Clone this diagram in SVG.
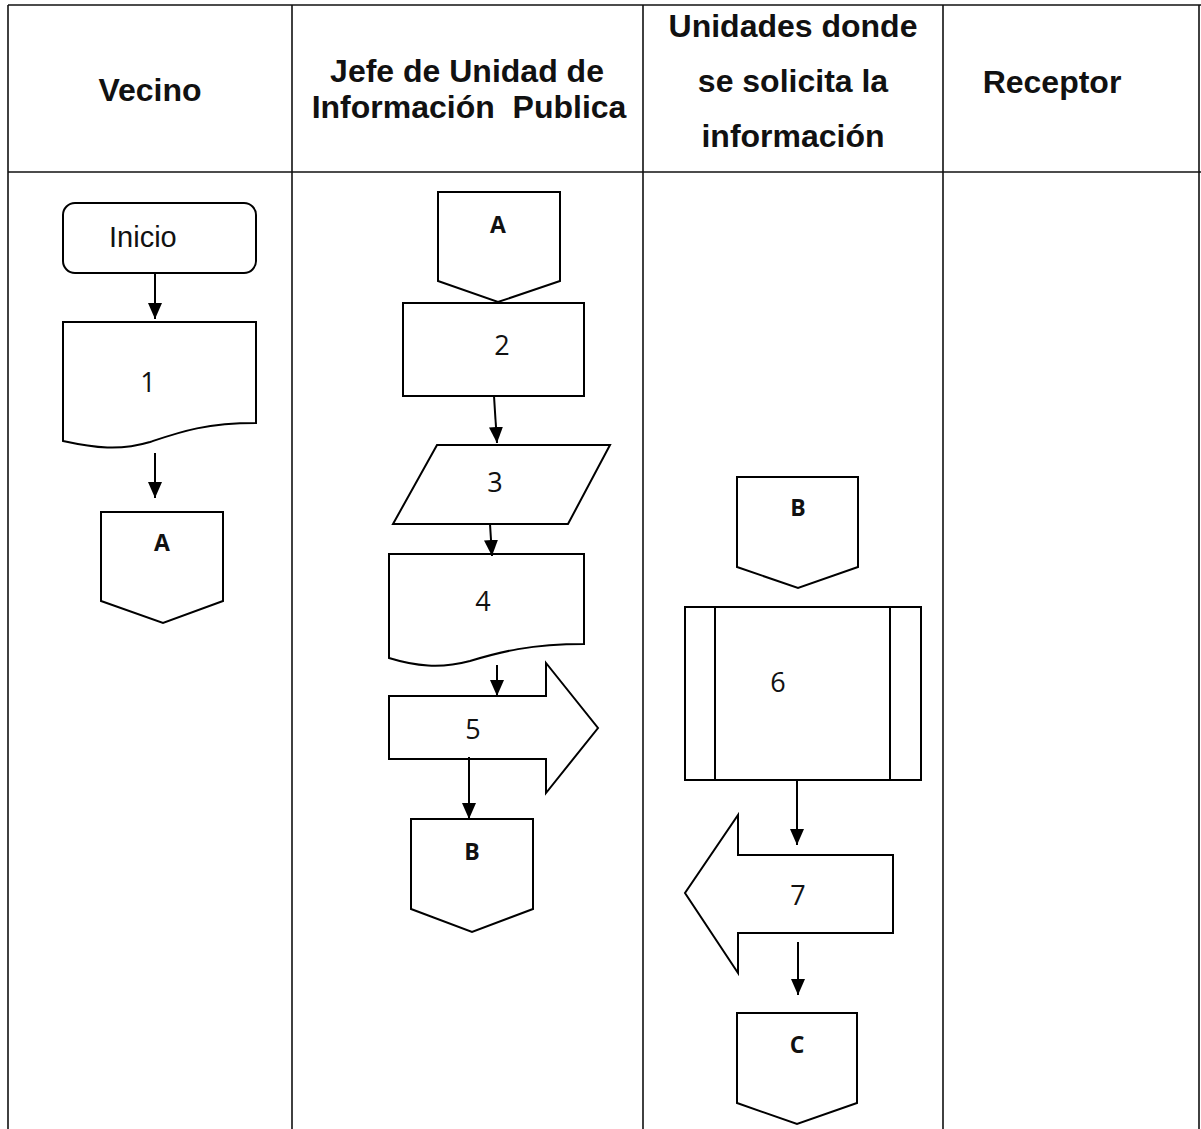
<svg xmlns="http://www.w3.org/2000/svg" width="1201" height="1129" viewBox="0 0 1201 1129">
<style>
.grid{stroke:#111;stroke-width:1.6;fill:none}
.shape{fill:#fff;stroke:#000;stroke-width:2}
.hdr{font-family:"Liberation Sans",Arial,sans-serif;font-weight:bold;font-size:32px;fill:#111;text-anchor:middle}
.num{font-family:"Open Sans","Liberation Sans",sans-serif;font-size:27px;fill:#111;text-anchor:middle}
.let{font-family:"Open Sans","Liberation Sans",sans-serif;font-weight:bold;font-size:23px;fill:#111;text-anchor:middle}
.lbl{font-family:"Liberation Sans",Arial,sans-serif;font-size:29px;fill:#111}
.conn{stroke:#000;stroke-width:2;fill:none;marker-end:url(#ah)}
</style>
<defs>
<marker id="ah" markerUnits="userSpaceOnUse" markerWidth="16" markerHeight="14" refX="16" refY="7" orient="auto">
<path d="M0,0 L16,7 L0,14 z" fill="#000"/>
</marker>
</defs>
<rect width="1201" height="1129" fill="#fff"/>
<g id="table">
<line class="grid" x1="8" y1="5" x2="1201" y2="5"/>
<line class="grid" x1="8" y1="172" x2="1201" y2="172"/>
<line class="grid" x1="8" y1="5" x2="8" y2="1129"/>
<line class="grid" x1="292" y1="5" x2="292" y2="1129"/>
<line class="grid" x1="643" y1="5" x2="643" y2="1129"/>
<line class="grid" x1="943" y1="5" x2="943" y2="1129"/>
<line class="grid" x1="1199" y1="5" x2="1199" y2="1129"/>
<text class="hdr" x="150" y="101">Vecino</text>
<text class="hdr" x="467" y="82">Jefe de Unidad de</text>
<text class="hdr" x="469" y="118" xml:space="preserve">Información  Publica</text>
<text class="hdr" x="793" y="37">Unidades donde</text>
<text class="hdr" x="793" y="92">se solicita la</text>
<text class="hdr" x="793" y="147">información</text>
<text class="hdr" x="1052" y="93">Receptor</text>
</g>
<g id="n-inicio">
<rect class="shape" x="63" y="203" width="193" height="70" rx="12"/>
<text class="lbl" x="109" y="247">Inicio</text>
</g>
<g id="n-1">
<path class="shape" d="M63,322 L256,322 L256,423 C205,423 180,432 150,442 C120,451 95,448 63,441 Z"/>
<text class="num" x="148" y="392">1</text>
</g>
<g id="n-A1">
<path class="shape" d="M101,512 L223,512 L223,601 L163,623 L101,601 Z"/>
<text class="let" x="162" y="551">A</text>
</g>
<g id="n-A2">
<path class="shape" d="M438,192 L560,192 L560,281 L498,302 L438,281 Z"/>
<text class="let" x="498" y="233">A</text>
</g>
<g id="n-2">
<rect class="shape" x="403" y="303" width="181" height="93"/>
<text class="num" x="502" y="355">2</text>
</g>
<g id="n-3">
<path class="shape" d="M437,445 L610,445 L568,524 L393,524 Z"/>
<text class="num" x="495" y="492">3</text>
</g>
<g id="n-4">
<path class="shape" d="M389,554 L584,554 L584,644 C530,644 500,652 470,661 C440,669 415,666 389,658 Z"/>
<text class="num" x="483" y="611">4</text>
</g>
<g id="n-5">
<path class="shape" d="M389,696 L546,696 L546,663 L598,728 L546,793 L546,759 L389,759 Z"/>
<text class="num" x="473" y="739">5</text>
</g>
<g id="n-B1">
<path class="shape" d="M411,819 L533,819 L533,909 L472,932 L411,909 Z"/>
<text class="let" x="472" y="860">B</text>
</g>
<g id="n-B2">
<path class="shape" d="M737,477 L858,477 L858,567 L798,588 L737,567 Z"/>
<text class="let" x="798" y="516">B</text>
</g>
<g id="n-6">
<rect class="shape" x="685" y="607" width="236" height="173"/>
<line class="shape" x1="715" y1="607" x2="715" y2="780"/>
<line class="shape" x1="890" y1="607" x2="890" y2="780"/>
<text class="num" x="778" y="692">6</text>
</g>
<g id="n-7">
<path class="shape" d="M893,855 L738,855 L738,815 L685,893 L738,973 L738,933 L893,933 Z"/>
<text class="num" x="798" y="905">7</text>
</g>
<g id="n-C">
<path class="shape" d="M737,1013 L857,1013 L857,1103 L797,1124 L737,1103 Z"/>
<text class="let" x="797" y="1053">C</text>
</g>
<g id="connectors">
<line class="conn" x1="155" y1="273" x2="155" y2="319"/>
<line class="conn" x1="155" y1="453" x2="155" y2="498"/>
<line class="conn" x1="494" y1="396" x2="497" y2="443"/>
<line class="conn" x1="490" y1="524" x2="492" y2="556"/>
<line class="conn" x1="497" y1="665" x2="497" y2="696"/>
<line class="conn" x1="469" y1="757" x2="469" y2="819"/>
<line class="conn" x1="797" y1="780" x2="797" y2="845"/>
<line class="conn" x1="798" y1="942" x2="798" y2="995"/>
</g>
</svg>
